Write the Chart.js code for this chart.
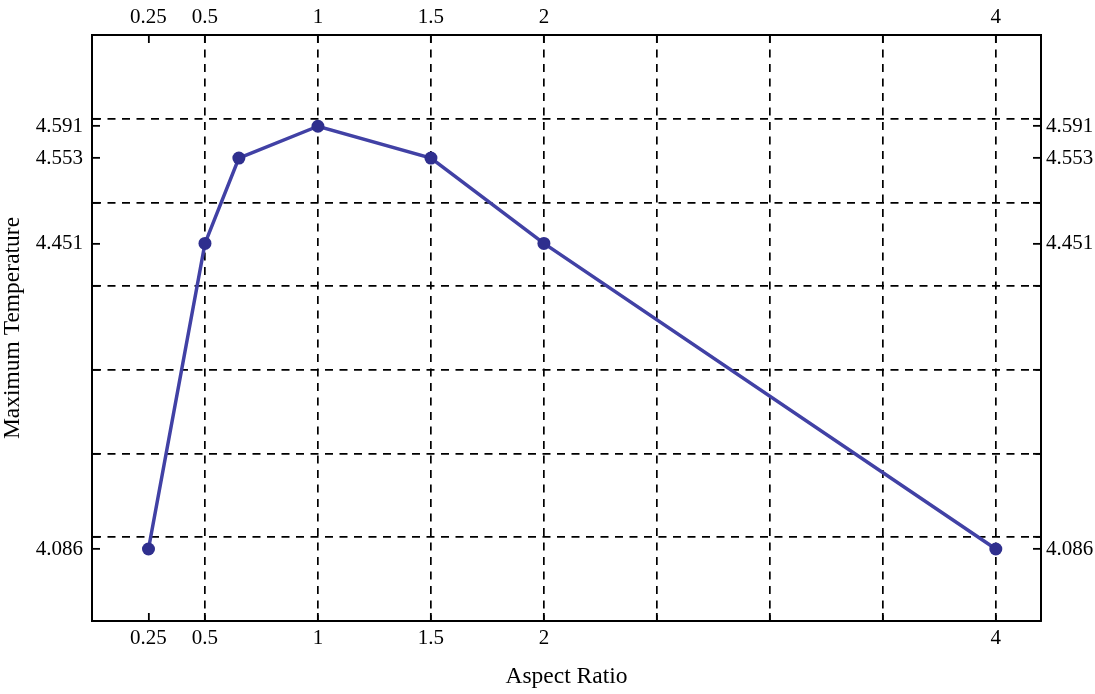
<!DOCTYPE html>
<html>
<head>
<meta charset="utf-8">
<title>Maximum Temperature vs Aspect Ratio</title>
<script src="https://cdn.jsdelivr.net/npm/chart.js@4.4.1/dist/chart.umd.min.js"></script>
<style>
  html, body { margin: 0; padding: 0; background: #ffffff; }
  #wrap { width: 1095px; height: 694px; position: relative; }
</style>
</head>
<body>
<div id="wrap"><canvas id="chart" width="1095" height="694"></canvas></div>
<script>
// Measured series
const aspectRatios = [0.25, 0.5, 0.65, 1, 1.5, 2, 4];
const maxTemperatures = [4.086, 4.451, 4.553, 4.591, 4.553, 4.451, 4.086];

// Labelled ticks (placed at the measured values)
const xTickValues = [0.25, 0.5, 1, 1.5, 2, 4];
const yTickValues = [4.086, 4.451, 4.553, 4.591];

// Regular dashed grid
const xGridValues = [0.5, 1, 1.5, 2, 2.5, 3, 3.5, 4];
const yGridValues = [4.1, 4.2, 4.3, 4.4, 4.5, 4.6];

const xRange = [0, 4.2];
const yRange = [4.0, 4.7];

const SERIF = "'Liberation Serif', 'Times New Roman', Times, serif";
const near = (a, b) => Math.abs(a - b) < 1e-6;
const inList = (list, v) => list.some(t => near(t, v));

function mergedTicks(labels, grid) {
  const all = labels.slice();
  grid.forEach(v => { if (!inList(all, v)) all.push(v); });
  return all.sort((a, b) => a - b).map(v => ({ value: v }));
}

function makeAxis(opts) {
  const { position, labels, grid, range, fmt, drawGrid, size, padding, title } = opts;
  const horizontal = position === 'top' || position === 'bottom';
  return {
    type: 'linear',
    position,
    min: range[0],
    max: range[1],
    afterBuildTicks: scale => { scale.ticks = mergedTicks(labels, grid); },
    afterFit: scale => {
      if (horizontal) scale.height = size; else scale.width = size;
    },
    ticks: {
      autoSkip: false,
      maxRotation: 0,
      minRotation: 0,
      padding,
      color: '#000',
      font: { family: SERIF, size: 21 },
      callback: v => (inList(labels, v) ? fmt(v) : '')
    },
    grid: {
      display: true,
      drawOnChartArea: drawGrid,
      drawTicks: true,
      tickLength: -8,
      tickWidth: 1.8,
      tickColor: '#000',
      lineWidth: 1.7,
      color: ctx => (ctx.tick && inList(grid, ctx.tick.value) ? '#000' : 'rgba(0,0,0,0)')
    },
    border: {
      display: true,
      color: '#000',
      width: 2,
      dash: [8, 6.5]
    },
    title: title ? {
      display: true,
      text: title.text,
      color: '#000',
      font: { family: SERIF, size: 23.5 },
      padding: title.padding
    } : { display: false }
  };
}

const fmtX = v => String(v);
const fmtY = v => v.toFixed(3);

const points = aspectRatios.map((x, i) => ({ x, y: maxTemperatures[i] }));

new Chart(document.getElementById('chart'), {
  type: 'scatter',
  data: {
    datasets: [{
      data: points,
      showLine: true,
      borderColor: '#4141a5',
      borderWidth: 3.5,
      pointRadius: 6.5,
      pointHoverRadius: 6.5,
      pointBackgroundColor: '#2f2f8e',
      pointBorderColor: '#2f2f8e',
      pointBorderWidth: 0,
      xAxisID: 'x',
      yAxisID: 'y'
    }]
  },
  options: {
    responsive: false,
    animation: false,
    layout: { padding: 0 },
    plugins: { legend: { display: false }, tooltip: { enabled: false } },
    scales: {
      x: makeAxis({ position: 'bottom', labels: xTickValues, grid: xGridValues, range: xRange, fmt: fmtX,
        drawGrid: true, size: 73, padding: 13, title: { text: 'Aspect Ratio', padding: { top: 0, bottom: 3 } } }),
      x2: makeAxis({ position: 'top', labels: xTickValues, grid: xGridValues, range: xRange, fmt: fmtX,
        drawGrid: false, size: 35, padding: 13 }),
      y: makeAxis({ position: 'left', labels: yTickValues, grid: yGridValues, range: yRange, fmt: fmtY,
        drawGrid: true, size: 92, padding: 17, title: { text: 'Maximum Temperature', padding: { top: -1, bottom: 0 } } }),
      y2: makeAxis({ position: 'right', labels: yTickValues, grid: yGridValues, range: yRange, fmt: fmtY,
        drawGrid: false, size: 54, padding: 13 })
    }
  }
});
</script>
</body>
</html>
